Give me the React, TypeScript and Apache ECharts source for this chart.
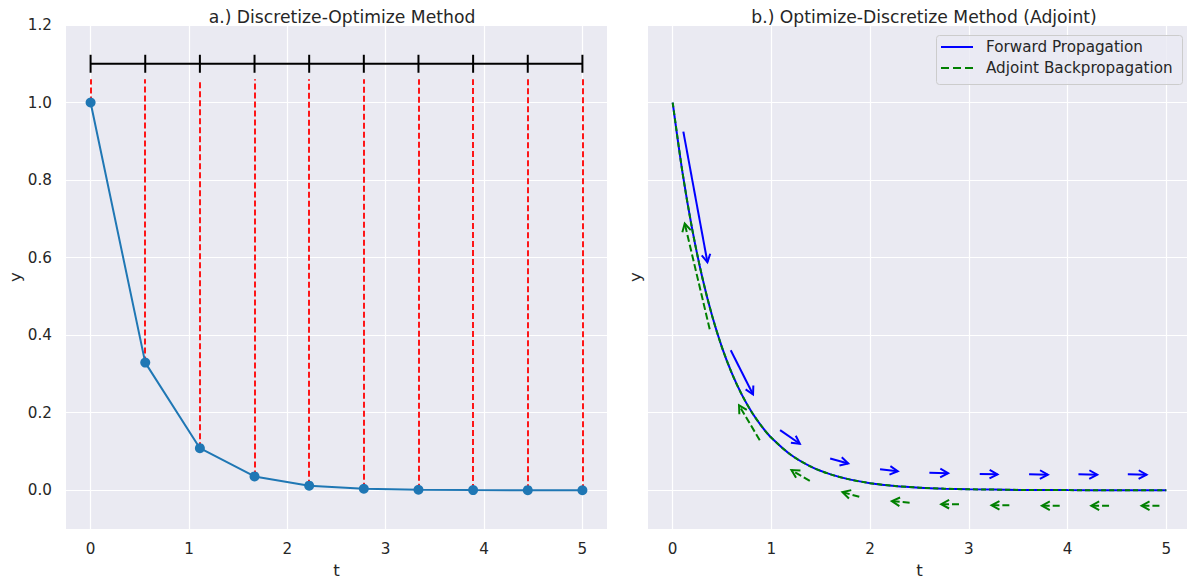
import React, { useEffect, useRef } from "react";
import * as echarts from "echarts";

// Discretized solution of y' = -2y, y(0) = 1 on ten grid points
const stepT = [0, 0.5556, 1.1111, 1.6667, 2.2222, 2.7778, 3.3333, 3.8889, 4.4444, 5.0];
const stepY = [1.0, 0.3292, 0.1084, 0.0357, 0.0117, 0.0039, 0.0013, 0.0004, 0.0001, 0.0];
const meshLevel = 1.1; // level of the time-mesh bar
const dropTop = 1.06; // where the dashed drops start

// Continuous trajectory
const curveT = [0, 0.1, 0.2, 0.3, 0.4, 0.5, 0.6, 0.7, 0.8, 0.9, 1.0, 1.2, 1.4, 1.6, 1.8, 2.0, 2.25, 2.5, 2.75, 3.0, 3.5, 4.0, 4.5, 5.0];
const curveY = [1.0, 0.8187, 0.6703, 0.5488, 0.4493, 0.3679, 0.3012, 0.2466, 0.2019, 0.1653, 0.1353, 0.0907, 0.0608, 0.0408, 0.0273, 0.0183, 0.0111, 0.0067, 0.0041, 0.0025, 0.0009, 0.0003, 0.0001, 0.0];

// Arrows: [tStart, yStart, tEnd, yEnd]
const forwardArrows = [
  [0.108, 0.925, 0.352, 0.588],
  [0.588, 0.361, 0.814, 0.247],
  [1.088, 0.155, 1.288, 0.12],
  [1.595, 0.082, 1.778, 0.069],
  [2.1, 0.054, 2.28, 0.049],
  [2.6, 0.045, 2.79, 0.044],
  [3.11, 0.042, 3.29, 0.041],
  [3.61, 0.041, 3.8, 0.04],
  [4.11, 0.041, 4.3, 0.04],
  [4.61, 0.041, 4.8, 0.04],
];
const adjointArrows = [
  [0.375, 0.415, 0.122, 0.688],
  [0.882, 0.129, 0.672, 0.219],
  [1.389, 0.024, 1.203, 0.052],
  [1.89, -0.017, 1.72, -0.005],
  [2.4, -0.032, 2.22, -0.028],
  [2.9, -0.036, 2.72, -0.036],
  [3.41, -0.039, 3.23, -0.039],
  [3.92, -0.04, 3.74, -0.04],
  [4.42, -0.04, 4.24, -0.04],
  [4.93, -0.04, 4.75, -0.04],
];

const xTicks = [0, 1, 2, 3, 4, 5];
const yTicks = [0, 0.2, 0.4, 0.6, 0.8, 1.0, 1.2];

const FONT = "DejaVu Sans";
const TEXT = "#262626";
const BG = "#EAEAF2";
const TICK_SIZE = 15.2;
const LABEL_SIZE = 16.7;
const TITLE_SIZE = 17.2;
const LEGEND_SIZE = 15.2;

function arrowRenderer(color: string, dashed: boolean) {
  return (_params: any, api: any) => {
    const a = api.coord([api.value(0), api.value(1)]);
    const b = api.coord([api.value(2), api.value(3)]);
    const ang = Math.atan2(b[1] - a[1], b[0] - a[0]);
    const L = 9;
    const spread = 0.5;
    const h1 = [b[0] - L * Math.cos(ang - spread), b[1] - L * Math.sin(ang - spread)];
    const h2 = [b[0] - L * Math.cos(ang + spread), b[1] - L * Math.sin(ang + spread)];
    return {
      type: "group",
      children: [
        {
          type: "line",
          shape: { x1: a[0], y1: a[1], x2: b[0], y2: b[1] },
          style: { stroke: color, lineWidth: 2, lineDash: dashed ? [7, 3] : null, fill: null },
        },
        {
          type: "polyline",
          shape: { points: [h1, b, h2] },
          style: { stroke: color, lineWidth: 2, fill: null },
        },
      ],
    };
  };
}

function xAxisFor(gridIndex: number) {
  return {
    type: "value",
    gridIndex,
    min: -0.25,
    max: 5.25,
    name: "t",
    nameLocation: "middle",
    nameGap: 32,
    nameTextStyle: { color: TEXT, fontSize: LABEL_SIZE, fontFamily: FONT },
    axisLine: { show: false },
    axisTick: { show: false, customValues: xTicks },
    axisLabel: { customValues: xTicks, color: TEXT, fontSize: TICK_SIZE, fontFamily: FONT, margin: 12 },
    splitLine: { show: true, lineStyle: { color: "#ffffff", width: 1.2 } },
  };
}

function yAxisFor(gridIndex: number, showLabels: boolean) {
  return {
    type: "value",
    gridIndex,
    min: -0.1,
    max: 1.2,
    name: "y",
    nameLocation: "middle",
    nameGap: showLabels ? 42 : 5,
    nameTextStyle: { color: TEXT, fontSize: LABEL_SIZE, fontFamily: FONT },
    axisLine: { show: false },
    axisTick: { show: false, customValues: yTicks },
    axisLabel: {
      show: showLabels,
      customValues: yTicks,
      color: TEXT,
      fontSize: TICK_SIZE,
      fontFamily: FONT,
      margin: 14,
      formatter: (v: number) => v.toFixed(1),
    },
    splitLine: { show: true, lineStyle: { color: "#ffffff", width: 1.2 } },
  };
}

export default function App() {
  const ref = useRef<HTMLDivElement>(null);

  useEffect(() => {
    if (!ref.current) return;
    const chart = echarts.init(ref.current, undefined, { renderer: "svg" });

    const legendX = 936;
    const legendY = 35;

    chart.setOption({
      animation: false,
      backgroundColor: "#ffffff",
      textStyle: { fontFamily: FONT },
      title: [
        {
          text: "a.) Discretize-Optimize Method",
          left: 337,
          top: 3,
          textAlign: "center",
          textStyle: { color: TEXT, fontSize: TITLE_SIZE, fontWeight: "normal", fontFamily: FONT },
        },
        {
          text: "b.) Optimize-Discretize Method (Adjoint)",
          left: 919,
          top: 3,
          textAlign: "center",
          textStyle: { color: TEXT, fontSize: TITLE_SIZE, fontWeight: "normal", fontFamily: FONT },
        },
      ],
      grid: [
        {
          left: 66,
          top: 25,
          width: 541,
          height: 504,
          show: true,
          backgroundColor: BG,
          borderWidth: 0,
          outerBoundsMode: "none",
          containLabel: false,
        },
        {
          left: 648,
          top: 25,
          width: 543,
          height: 504,
          show: true,
          backgroundColor: BG,
          borderWidth: 0,
          outerBoundsMode: "none",
          containLabel: false,
        },
      ],
      xAxis: [xAxisFor(0), xAxisFor(1)],
      yAxis: [yAxisFor(0, true), yAxisFor(1, false)],
      series: [
        {
          name: "drops",
          type: "lines",
          coordinateSystem: "cartesian2d",
          xAxisIndex: 0,
          yAxisIndex: 0,
          z: 2,
          symbol: "none",
          silent: true,
          lineStyle: { color: "#ff0000", width: 1.8, type: [6, 3], opacity: 1 },
          data: stepT.map((t, i) => ({ coords: [[t, stepY[i]], [t, dropTop]] })),
        },
        {
          name: "mesh",
          type: "line",
          xAxisIndex: 0,
          yAxisIndex: 0,
          z: 3,
          data: stepT.map((t) => [t, meshLevel]),
          symbol: "rect",
          symbolSize: [2, 18],
          itemStyle: { color: "#000000" },
          lineStyle: { color: "#000000", width: 2 },
        },
        {
          name: "discrete",
          type: "line",
          xAxisIndex: 0,
          yAxisIndex: 0,
          z: 4,
          data: stepT.map((t, i) => [t, stepY[i]]),
          symbol: "circle",
          symbolSize: 10,
          itemStyle: { color: "#1f77b4" },
          lineStyle: { color: "#1f77b4", width: 2 },
        },
        {
          name: "Forward Propagation",
          type: "line",
          xAxisIndex: 1,
          yAxisIndex: 1,
          z: 3,
          smooth: 0.3,
          showSymbol: false,
          data: curveT.map((t, i) => [t, curveY[i]]),
          lineStyle: { color: "#0000ff", width: 2 },
        },
        {
          name: "Adjoint Backpropagation",
          type: "line",
          xAxisIndex: 1,
          yAxisIndex: 1,
          z: 4,
          smooth: 0.3,
          showSymbol: false,
          data: curveT.map((t, i) => [t, curveY[i]]),
          lineStyle: { color: "#008000", width: 2, type: [5, 3] },
        },
        {
          name: "forwardArrows",
          type: "custom",
          xAxisIndex: 1,
          yAxisIndex: 1,
          z: 5,
          silent: true,
          renderItem: arrowRenderer("#0000ff", false),
          encode: { x: [0, 2], y: [1, 3] },
          data: forwardArrows,
        },
        {
          name: "adjointArrows",
          type: "custom",
          xAxisIndex: 1,
          yAxisIndex: 1,
          z: 5,
          silent: true,
          renderItem: arrowRenderer("#008000", true),
          encode: { x: [0, 2], y: [1, 3] },
          data: adjointArrows,
        },
      ],
      graphic: [
        {
          type: "rect",
          left: legendX,
          top: legendY,
          z: 10,
          shape: { width: 246, height: 49, r: 3 },
          style: { fill: "rgba(234,234,242,0.8)", stroke: "#cccccc", lineWidth: 1 },
        },
        {
          type: "line",
          z: 11,
          shape: { x1: legendX + 5, y1: legendY + 12, x2: legendX + 37, y2: legendY + 12 },
          style: { stroke: "#0000ff", lineWidth: 2 },
        },
        {
          type: "line",
          z: 11,
          shape: { x1: legendX + 5, y1: legendY + 33, x2: legendX + 37, y2: legendY + 33 },
          style: { stroke: "#008000", lineWidth: 2, lineDash: [8, 4] },
        },
        {
          type: "text",
          z: 11,
          x: legendX + 50,
          y: legendY + 12,
          style: {
            text: "Forward Propagation",
            fill: TEXT,
            font: `${LEGEND_SIZE}px "${FONT}"`,
            verticalAlign: "middle",
          },
        },
        {
          type: "text",
          z: 11,
          x: legendX + 50,
          y: legendY + 33,
          style: {
            text: "Adjoint Backpropagation",
            fill: TEXT,
            font: `${LEGEND_SIZE}px "${FONT}"`,
            verticalAlign: "middle",
          },
        },
      ],
    });

    return () => chart.dispose();
  }, []);

  return (
    <div
      ref={ref}
      style={{ position: "absolute", left: 0, top: 0, width: 1187, height: 580, background: "#fff" }}
    />
  );
}
